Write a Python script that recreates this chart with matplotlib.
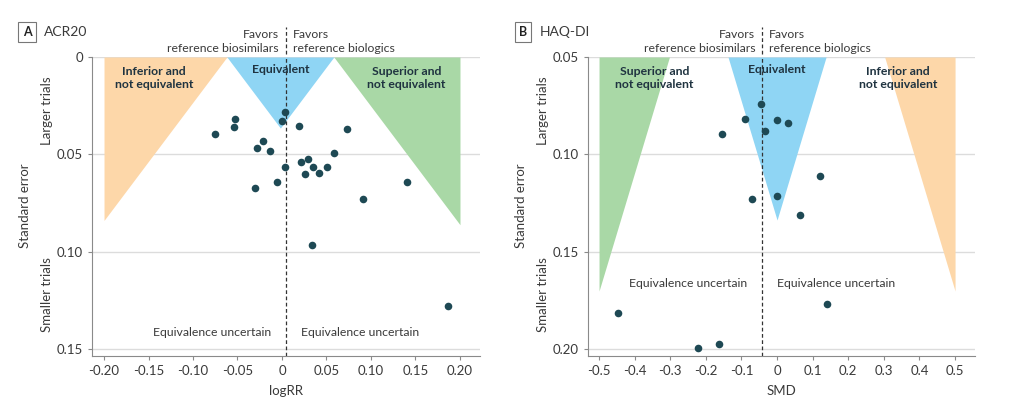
import numpy as np
import matplotlib
matplotlib.use("Agg")
import matplotlib.pyplot as plt
import matplotlib.transforms as mtransforms

plt.rcParams['font.family'] = ['Lato', 'DejaVu Sans']

# ---- data: panel A (ACR20) ----
acr_logrr = [-0.075, -0.0527, -0.0538, -0.0283, -0.0216, -0.0133, -0.0298, -0.0058,
             0.0036, 0.0002, 0.0032, 0.0186, 0.0219, 0.0294, 0.0253, 0.0343,
             0.0418, 0.0508, 0.0583, 0.0733, 0.1404, 0.0909, 0.0339, 0.1865]
acr_se = [0.0398, 0.0319, 0.0362, 0.0466, 0.0430, 0.0485, 0.0671, 0.0640,
          0.0282, 0.0328, 0.0565, 0.0353, 0.0541, 0.0526, 0.0602, 0.0567,
          0.0597, 0.0563, 0.0491, 0.0370, 0.0642, 0.0728, 0.0966, 0.1277]
acr_pooled = 0.0045
acr_margin = (np.log(0.94), np.log(1.06))
acr_xticks = [-0.20, -0.15, -0.10, -0.05, 0, 0.05, 0.10, 0.15, 0.20]
acr_xlabels = ['-0.20', '-0.15', '-0.10', '-0.05', '0', '0.05', '0.10', '0.15', '0.20']
acr_yticks = [0, 0.05, 0.10, 0.15]
acr_ylabels = ['0', '0.05', '0.10', '0.15']

# ---- data: panel B (HAQ-DI) ----
haq_smd = [-0.0463, -0.0912, -0.0005, 0.0304, -0.0351, -0.1548, 0.1202,
           -0.0697, -0.0014, 0.065, -0.4476, 0.1417, -0.2231, -0.1642]
haq_se = [0.0742, 0.0817, 0.0824, 0.0838, 0.0882, 0.0896, 0.1111,
          0.1229, 0.1214, 0.131, 0.1813, 0.1769, 0.1995, 0.1973]
haq_pooled = -0.042
haq_margin = (-0.22, 0.22)
haq_xticks = [-0.5, -0.4, -0.3, -0.2, -0.1, 0, 0.1, 0.2, 0.3, 0.4, 0.5]
haq_xlabels = ['-0.5', '-0.4', '-0.3', '-0.2', '-0.1', '0', '0.1', '0.2', '0.3', '0.4', '0.5']
haq_yticks = [0.05, 0.10, 0.15, 0.20]
haq_ylabels = ['0.05', '0.10', '0.15', '0.20']

Z = 1.645
ORANGE = '#fdd7a9'
BLUE = '#8fd5f4'
GREEN = '#a9d8a6'
DOT = '#1e4954'
TXT = '#3a3a3a'
LBL = '#1f3340'
FS = 8.8

W, H = 1024, 397
fig = plt.figure(figsize=(W / 100, H / 100), dpi=100)


def fx(x):
    return x / W


def fy(y):
    return 1 - y / H


def panel(rect, xs, ses, pooled, margin, xlim, ylim, xticks, xlabels, yticks, ylabels,
          edge, left_lab, left_col, left_x, right_lab, right_col, right_x, xlabel, unc_y):
    ax = fig.add_axes(rect)
    lo, hi = margin
    se = np.linspace(ylim[1], ylim[0], 400)
    # shaded zones
    ax.fill_betweenx(se, -edge, lo - Z * se, where=(lo - Z * se) > -edge,
                     color=left_col, lw=0, interpolate=True)
    ax.fill_betweenx(se, lo + Z * se, hi - Z * se, where=(lo + Z * se) < (hi - Z * se),
                     color=BLUE, lw=0, interpolate=True)
    ax.fill_betweenx(se, hi + Z * se, edge, where=(hi + Z * se) < edge,
                     color=right_col, lw=0, interpolate=True)

    ax.axvline(pooled, color='#333333', lw=0.9, ls=(0, (3, 2)), zorder=2)
    ax.scatter(xs, ses, s=30, color=DOT, zorder=3, lw=0)

    ax.set_xlim(xlim)
    ax.set_ylim(ylim)
    ax.set_xticks(xticks)
    ax.set_xticklabels(xlabels)
    ax.set_yticks(yticks)
    ax.set_yticklabels(ylabels)
    ax.yaxis.grid(True, color='#dcdcdc', lw=1)
    ax.set_axisbelow(True)
    for s in ['top', 'right']:
        ax.spines[s].set_visible(False)
    for s in ['left', 'bottom']:
        ax.spines[s].set_color('#8a8a8a')
    ax.tick_params(colors='#8a8a8a', labelcolor=TXT, labelsize=9.5, length=3, width=0.8)
    ax.set_xlabel(xlabel, fontsize=9.5, color=TXT, labelpad=6)

    # region labels
    tr = mtransforms.blended_transform_factory(ax.transData, ax.transAxes)
    ax.text(left_x, 1 - 0.07, left_lab, transform=tr, ha='center', va='center',
            fontsize=FS, fontweight='bold', color=LBL, linespacing=1.3)
    ax.text((lo + hi) / 2, 1 - 0.043, 'Equivalent', transform=tr,
            ha='center', va='center', fontsize=FS, fontweight='bold', color=LBL)
    ax.text(right_x, 1 - 0.07, right_lab, transform=tr, ha='center', va='center',
            fontsize=FS, fontweight='bold', color=LBL, linespacing=1.3)
    ax.annotate('Equivalence uncertain', (pooled, unc_y), xytext=(-11, 0),
                textcoords='offset points', ha='right', va='center', fontsize=FS, color=TXT)
    ax.annotate('Equivalence uncertain', (pooled, unc_y), xytext=(11, 0),
                textcoords='offset points', ha='left', va='center', fontsize=FS, color=TXT)

    # header above plot
    for txt, y, side in [('Favors', 1.074, -1), ('reference biosimilars', 1.027, -1),
                         ('Favors', 1.074, 1), ('reference biologics', 1.027, 1)]:
        ax.annotate(txt, (pooled, y), xycoords=tr, xytext=(5 * side, 0),
                    textcoords='offset points', ha='right' if side < 0 else 'left',
                    va='center', fontsize=FS, color=TXT)
    ax.plot([pooled, pooled], [1.01, 1.10], transform=tr, color='#333333', lw=0.9,
            ls=(0, (3, 2)), clip_on=False)
    return ax


top, bot = 57, 356
axA = panel([fx(92), fy(bot), fx(480) - fx(92), fy(top) - fy(bot)],
            acr_logrr, acr_se, acr_pooled, acr_margin, (-0.2135, 0.2225), (0.1536, 0),
            acr_xticks, acr_xlabels, acr_yticks, acr_ylabels, 0.2,
            'Inferior and\nnot equivalent', ORANGE, -0.144,
            'Superior and\nnot equivalent', GREEN, 0.140, 'logRR', 0.1415)
axB = panel([fx(588), fy(bot), fx(975) - fx(588), fy(top) - fy(bot)],
            haq_smd, haq_se, haq_pooled, haq_margin, (-0.531, 0.556), (0.2036, 0.05),
            haq_xticks, haq_xlabels, haq_yticks, haq_ylabels, 0.5,
            'Superior and\nnot equivalent', GREEN, -0.345,
            'Inferior and\nnot equivalent', ORANGE, 0.34, 'SMD', 0.1665)

# panel letters and titles
for x0, letter, title in [(27, 'A', 'ACR20'), (523, 'B', 'HAQ-DI')]:
    fig.text(fx(x0), fy(32), letter, ha='center', va='center', fontsize=9,
             fontweight='bold', color='#222222',
             bbox=dict(boxstyle='square,pad=0.35', fc='white', ec='#777777', lw=0.8))
    fig.text(fx(x0 + 17), fy(32), title, ha='left', va='center', fontsize=10, color=TXT)

# y-axis labels
for x0 in [25, 521]:
    fig.text(fx(x0), fy(206), 'Standard error', rotation=90, ha='center', va='center',
             fontsize=9.5, color=TXT)
    fig.text(fx(x0 + 22), fy(111), 'Larger trials', rotation=90, ha='center',
             va='center', fontsize=9.5, color=TXT)
    fig.text(fx(x0 + 22), fy(295), 'Smaller trials', rotation=90, ha='center',
             va='center', fontsize=9.5, color=TXT)

fig.savefig('out.png', dpi=100)
